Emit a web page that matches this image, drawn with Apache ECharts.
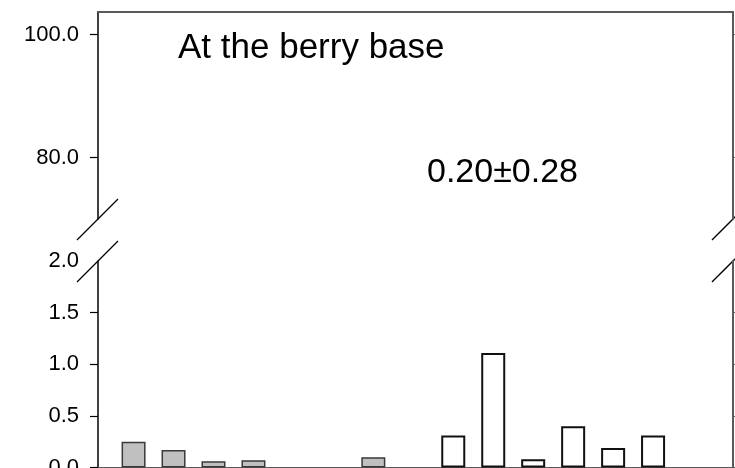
<!DOCTYPE html>
<html>
<head>
<meta charset="utf-8">
<script src="https://cdn.jsdelivr.net/npm/echarts@6/dist/echarts.min.js"></script>
<style>
  html, body { margin: 0; padding: 0; background: #ffffff; }
  #chart { width: 735px; height: 468px; }
</style>
</head>
<body>
<div id="chart"></div>
<script>
// Sample positions along the x axis and the measured value at each one
const positions = [1, 2, 3, 4, 5, 6, 7, 8, 9, 10, 11, 12, 13, 14, 15];
const values = [0.25, 0.17, 0.06, 0.07, 0, 0, 0.10, 0, 0.31, 1.11, 0.08, 0.40, 0.19, 0.31, 0];
// The first group of positions is drawn shaded, the rest open
const shadedCount = 7;

// Tick labels of the two y-axis segments
const upperTicks = [80, 100];
const lowerTicks = [0, 0.5, 1.0, 1.5, 2.0];
const lowerTickMarks = [0, 0.5, 1.0, 1.5];

const titleText = 'At the berry base';
const statText = '0.20\u00b10.28';

const FONT = '"Liberation Sans", Arial, sans-serif';
const FRAME = '#5a5a5a';

const barData = positions.map((p, i) => {
  if (!values[i]) return null;
  const shaded = i < shadedCount;
  return {
    value: [p, values[i]],
    itemStyle: {
      color: shaded ? '#c0c0c0' : '#ffffff',
      borderColor: shaded ? '#3a3a3a' : '#111111',
      borderWidth: shaded ? 1.5 : 2
    }
  };
}).filter(Boolean);

const fmt = v => Number(v).toFixed(1);

const chart = echarts.init(document.getElementById('chart'), null, { renderer: 'canvas' });

const xCommon = { type: 'value', min: 0.11, max: 16, axisTick: { show: false }, axisLabel: { show: false }, splitLine: { show: false } };

const leftY = (min, max, labels, ticks) => ({
  type: 'value', position: 'left', min: min, max: max,
  splitLine: { show: false },
  axisLine: { show: true, lineStyle: { color: '#000', width: 1.5 } },
  axisTick: { show: true, inside: false, length: 8, customValues: ticks, lineStyle: { color: '#000', width: 1.2 } },
  axisLabel: { show: true, customValues: labels, margin: 19, color: '#000', fontFamily: FONT, fontSize: 22, formatter: fmt, showMinLabel: true, showMaxLabel: true }
});

const rightY = (min, max, ticks) => ({
  type: 'value', position: 'right', min: min, max: max,
  splitLine: { show: false },
  axisLine: { show: true, lineStyle: { color: FRAME, width: 2 } },
  axisTick: { show: true, inside: false, length: 3, customValues: ticks, lineStyle: { color: FRAME, width: 1.2 } },
  axisLabel: { show: false }
});

chart.setOption({
  animation: false,
  backgroundColor: '#ffffff',
  grid: [
    { left: 98, right: 2, top: 12, height: 207, outerBoundsMode: 'none', containLabel: false },
    { left: 98, right: 2, top: 261, bottom: 0.5, outerBoundsMode: 'none', containLabel: false }
  ],
  xAxis: [
    Object.assign({ gridIndex: 0, position: 'top', axisLine: { show: true, lineStyle: { color: FRAME, width: 2 } } }, xCommon),
    Object.assign({ gridIndex: 1, position: 'bottom', axisLine: { show: true, lineStyle: { color: FRAME, width: 2 } } }, xCommon)
  ],
  yAxis: [
    Object.assign({ gridIndex: 0 }, leftY(70, 103.7, upperTicks, upperTicks)),
    Object.assign({ gridIndex: 0 }, rightY(70, 103.7, upperTicks)),
    Object.assign({ gridIndex: 1 }, leftY(0, 2, lowerTicks, lowerTickMarks)),
    Object.assign({ gridIndex: 1 }, rightY(0, 2, lowerTickMarks))
  ],
  series: [
    {
      type: 'bar', xAxisIndex: 1, yAxisIndex: 2,
      barWidth: 24,
      data: barData
    }
  ],
  graphic: [
    // axis-break marks on both sides
    { type: 'line', shape: { x1: 77, y1: 240, x2: 118, y2: 199 }, style: { stroke: '#000', lineWidth: 1.3 } },
    { type: 'line', shape: { x1: 77, y1: 282, x2: 118, y2: 241 }, style: { stroke: '#000', lineWidth: 1.3 } },
    { type: 'line', shape: { x1: 712, y1: 240, x2: 753, y2: 199 }, style: { stroke: '#000', lineWidth: 1.3 } },
    { type: 'line', shape: { x1: 712, y1: 282, x2: 753, y2: 241 }, style: { stroke: '#000', lineWidth: 1.3 } },
    { type: 'text', x: 178, y: 48, style: { text: titleText, font: '35px ' + FONT, fill: '#000', verticalAlign: 'middle' } },
    { type: 'text', x: 427, y: 173, style: { text: statText, font: '34px ' + FONT, fill: '#000', verticalAlign: 'middle' } }
  ]
});
</script>
</body>
</html>
